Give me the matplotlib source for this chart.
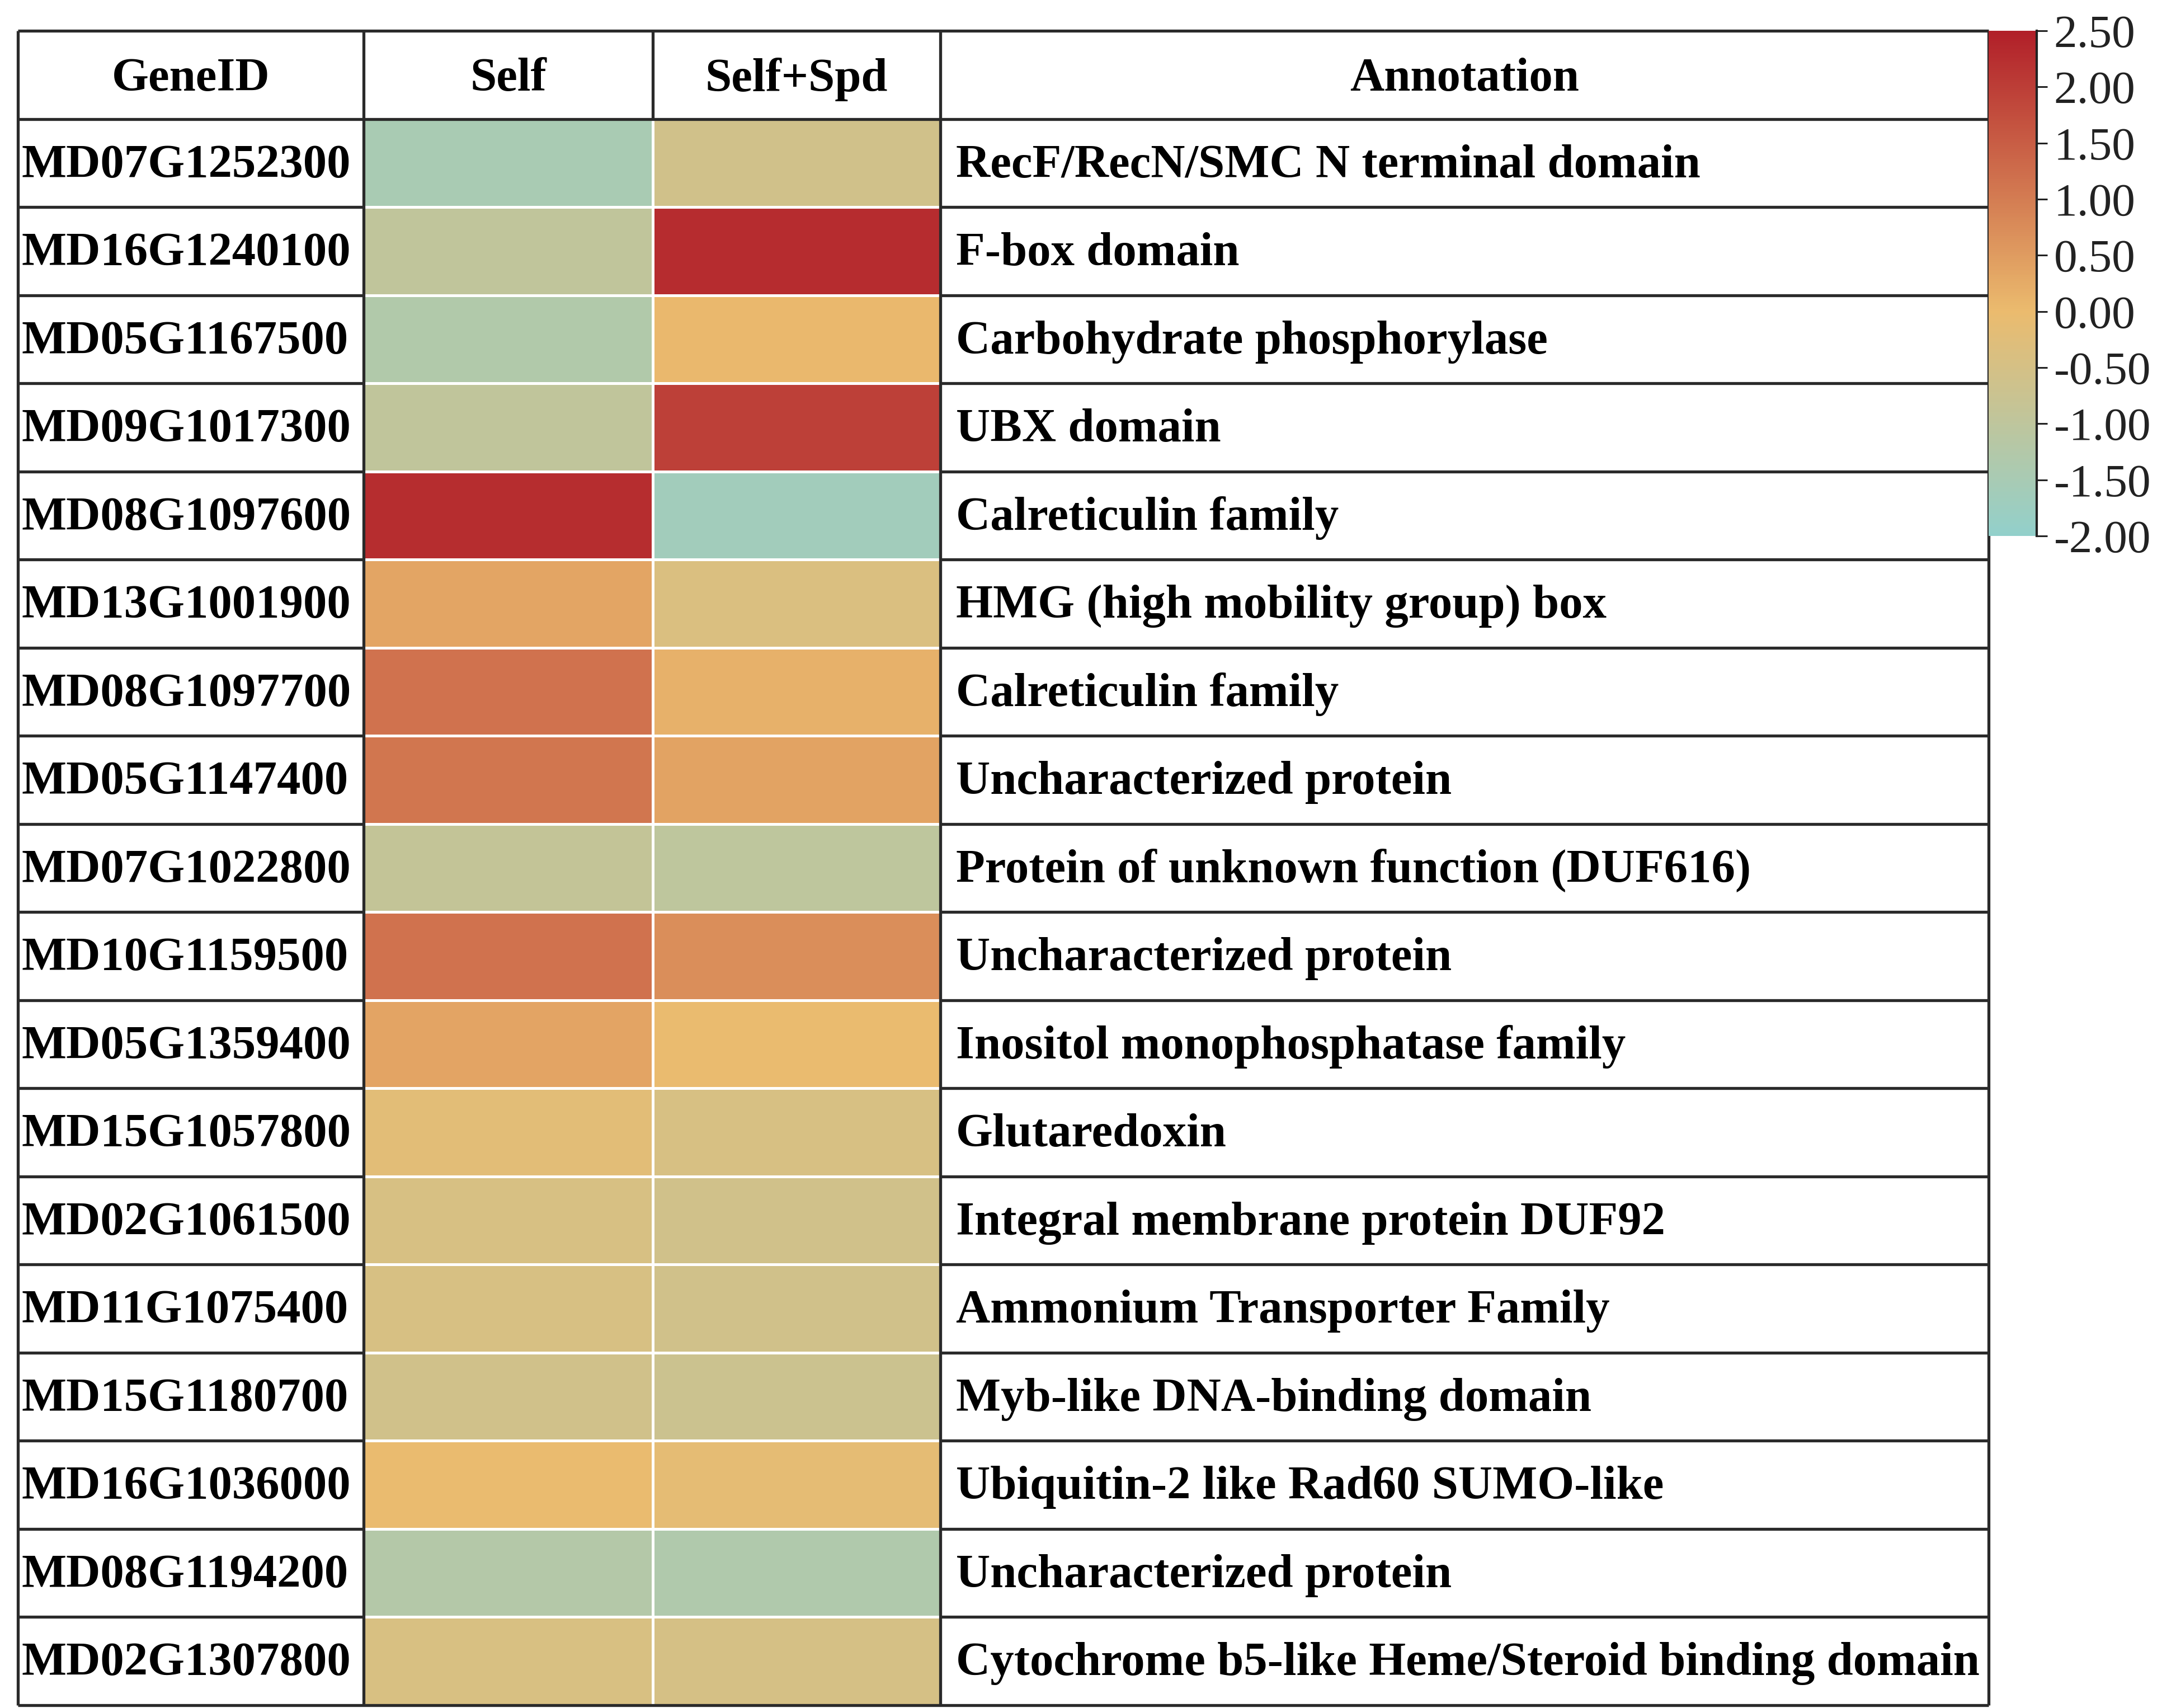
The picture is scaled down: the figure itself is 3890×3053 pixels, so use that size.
import numpy as np
import matplotlib
matplotlib.use('Agg')
import matplotlib.pyplot as plt
from matplotlib.colors import LinearSegmentedColormap, Normalize
from matplotlib.lines import Line2D

plt.rcParams['font.family'] = ['Liberation Serif', 'DejaVu Serif']
plt.rcParams['axes.unicode_minus'] = False

gene_ids = ['MD07G1252300', 'MD16G1240100', 'MD05G1167500', 'MD09G1017300',
            'MD08G1097600', 'MD13G1001900', 'MD08G1097700', 'MD05G1147400',
            'MD07G1022800', 'MD10G1159500', 'MD05G1359400', 'MD15G1057800',
            'MD02G1061500', 'MD11G1075400', 'MD15G1180700', 'MD16G1036000',
            'MD08G1194200', 'MD02G1307800']
self_vals = [-1.48, -0.97, -1.28, -0.95, 2.26, 0.34, 1.18, 1.10, -0.88,
             1.18, 0.37, -0.20, -0.45, -0.45, -0.60, -0.02, -1.24, -0.42]
self_spd_vals = [-0.60, 2.28, 0.05, 1.97, -1.64, -0.38, 0.15, 0.38, -1.01,
                 0.72, -0.02, -0.45, -0.60, -0.60, -0.70, -0.12, -1.33, -0.50]
annotations = ['RecF/RecN/SMC N terminal domain', 'F-box domain',
               'Carbohydrate phosphorylase', 'UBX domain', 'Calreticulin family',
               'HMG (high mobility group) box', 'Calreticulin family',
               'Uncharacterized protein', 'Protein of unknown function (DUF616)',
               'Uncharacterized protein', 'Inositol monophosphatase family',
               'Glutaredoxin', 'Integral membrane protein DUF92',
               'Ammonium Transporter Family', 'Myb-like DNA-binding domain',
               'Ubiquitin-2 like Rad60 SUMO-like', 'Uncharacterized protein',
               'Cytochrome b5-like Heme/Steroid binding domain']
headers = ['GeneID', 'Self', 'Self+Spd', 'Annotation']
cbar_ticks = [-2.0, -1.5, -1.0, -0.5, 0.0, 0.5, 1.0, 1.5, 2.0, 2.5]

W, H = 3890, 3053
vmin, vmax = -2.0, 2.5
# column borders in pixels
col_edges = [32, 650, 1167, 1681, 3555]
top, bottom = 55, 3048

cmap = LinearSegmentedColormap.from_list(
    'tealred', [(0.0, '#92D0CB'), ((0 - vmin) / (vmax - vmin), '#EBBB6E'), (1.0, '#B11F29')])
norm = Normalize(vmin, vmax)

fig = plt.figure(figsize=(W / 100, H / 100), dpi=100)
ax = fig.add_axes([col_edges[0] / W, 1 - bottom / H,
                   (col_edges[-1] - col_edges[0]) / W, (bottom - top) / H])
ax.set_xlim(col_edges[0], col_edges[-1])
ax.set_ylim(len(gene_ids), -1)
ax.axis('off')

values = np.column_stack([self_vals, self_spd_vals])
n = len(gene_ids)
ax.pcolormesh(col_edges[1:4], np.arange(n + 1), values, cmap=cmap, norm=norm,
              edgecolors='white', linewidth=3.5)

line_kw = dict(colors='#2a2a2a', linewidth=3.8, clip_on=False)
ax.hlines(np.arange(1, n), col_edges[0], col_edges[1], **line_kw)
ax.hlines(np.arange(1, n), col_edges[3], col_edges[4], **line_kw)
ax.hlines([-1, 0, n], col_edges[0], col_edges[4], **line_kw)
ax.vlines([col_edges[0], col_edges[1], col_edges[3], col_edges[4]], -1, n, **line_kw)
ax.vlines(col_edges[2], -1, 0, **line_kw)

fs = 61
for i, h in enumerate(headers):
    cx = (col_edges[i] + col_edges[i + 1]) / 2
    ax.text(cx, -0.45, h, ha='center', va='center', fontsize=fs, fontweight='bold')

for i in range(n):
    ax.text(col_edges[0] + 6, i + 0.53, gene_ids[i], ha='left', va='center',
            fontsize=fs, fontweight='bold')
    ax.text(col_edges[3] + 28, i + 0.53, annotations[i], ha='left', va='center',
            fontsize=fs, fontweight='bold')

# colorbar
cax = fig.add_axes([3555 / W, 1 - 958 / H, (3641 - 3555) / W, (958 - 55) / H])
sm = plt.cm.ScalarMappable(norm=norm, cmap=cmap)
cbar = fig.colorbar(sm, cax=cax, ticks=cbar_ticks)
cbar.outline.set_visible(False)
cax.add_line(Line2D([1, 1], [0, 1], transform=cax.transAxes, color='#222222',
                    linewidth=3, clip_on=False))
cax.tick_params(length=14, width=2.2, labelsize=60, pad=8, colors='#222222')
cax.set_yticklabels([f'{t:.2f}' for t in cbar_ticks])

fig.savefig('out.png', dpi=100)
